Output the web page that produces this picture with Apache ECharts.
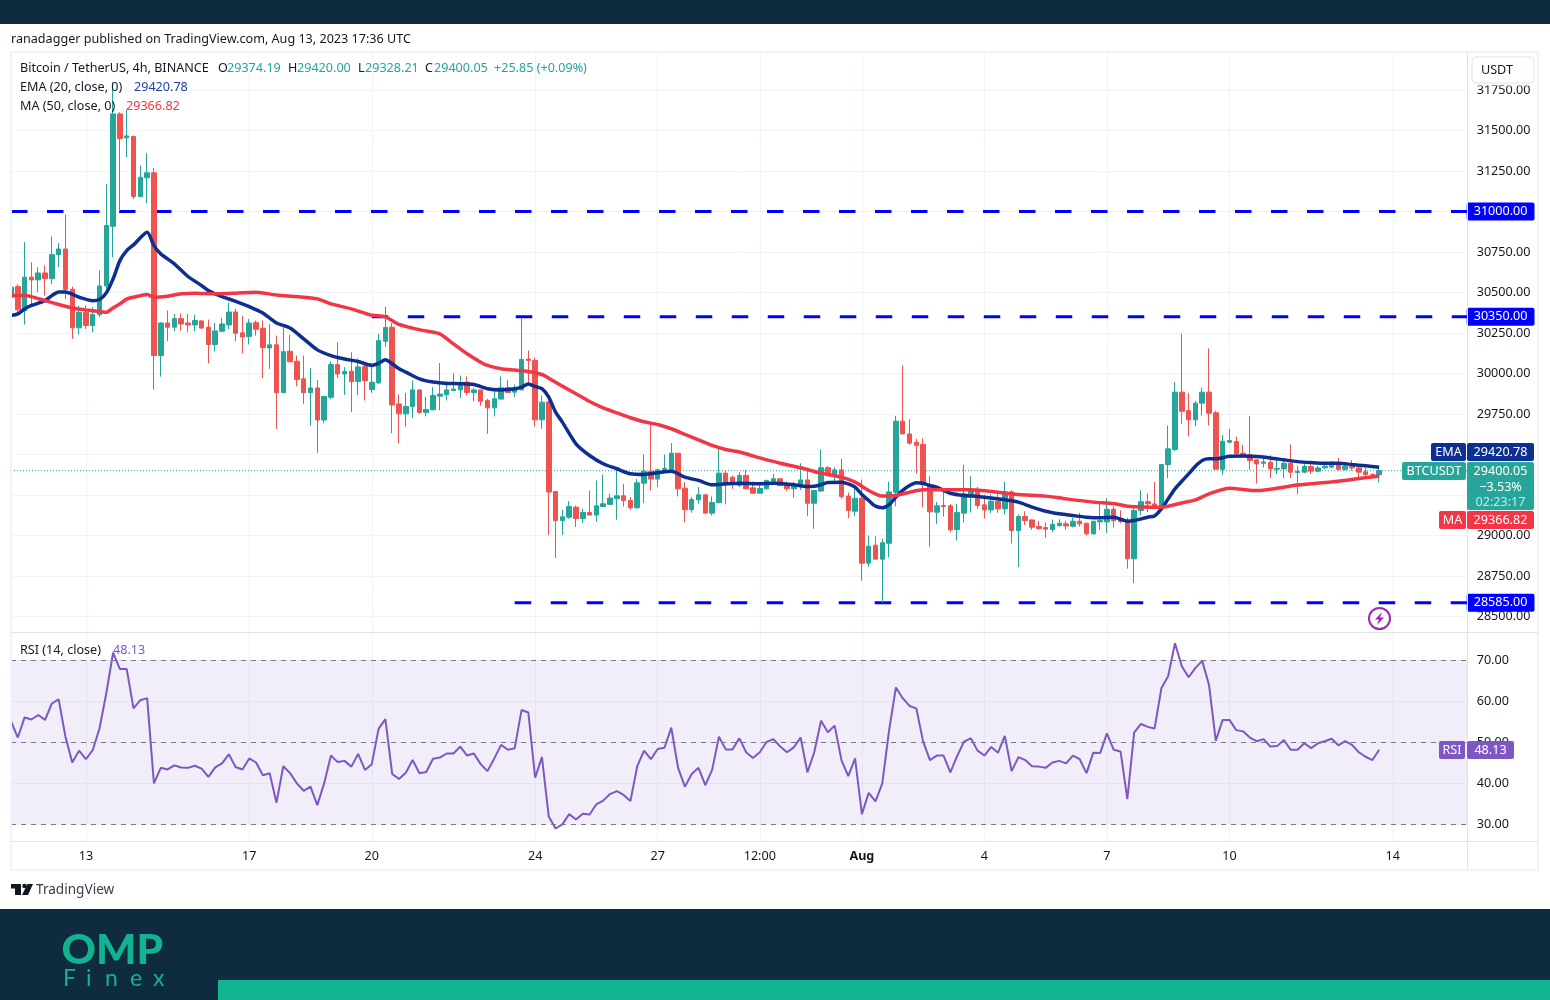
<!DOCTYPE html>
<html>
<head>
<meta charset="utf-8">
<title>BTCUSDT 4h</title>
<script src="https://cdn.jsdelivr.net/npm/echarts@6/dist/echarts.min.js"></script>
<style>
  html, body { margin: 0; padding: 0; background: #fff; overflow: hidden; }
  #chart { width: 1550px; height: 1000px; }
</style>
</head>
<body>
<div id="chart"></div>
<script>
// open, close, low, high for every 4h candle
const ohlc = [
  [30471,30533,30409,30656],[30537,30393,30378,30553],[30389,30595,30302,30811],[30595,30578,30409,30687],
  [30578,30621,30502,30656],[30621,30586,30481,30667],[30586,30734,30553,30846],[30734,30769,30656,30806],
  [30769,30520,30461,30981],[30520,30282,30214,30537],[30282,30378,30241,30420],[30378,30296,30275,30420],
  [30296,30364,30255,30409],[30364,30541,30348,30636],[30541,30914,30523,31171],[30909,31603,30718,31798],
  [31603,31451,31000,31613],[31455,31467,31335,31628],[31463,31093,31078,31470],[31093,31212,31088,31284],
  [31208,31239,31051,31360],[31239,30111,29901,31270],[30111,30312,29981,30316],[30312,30286,30199,30389],
  [30286,30339,30261,30368],[30339,30306,30265,30372],[30312,30300,30255,30368],[30300,30327,30261,30362],
  [30325,30281,30275,30331],[30286,30179,30063,30333],[30179,30263,30137,30312],[30261,30306,30255,30343],
  [30300,30380,30275,30438],[30380,30249,30199,30399],[30251,30226,30125,30358],[30228,30312,30179,30337],
  [30314,30273,30234,30327],[30279,30160,29971,30327],[30158,30177,30028,30306],[30177,29882,29658,30234],
  [29882,30135,29882,30286],[30137,30072,30072,30238],[30076,29963,29921,30111],[29967,29882,29812,30111],
  [29882,29911,29679,30034],[29911,29713,29510,29960],[29713,29858,29693,29864],[29853,30055,29843,30076],
  [30055,29997,29971,30193],[29997,30012,29868,30039],[30014,29950,29761,30131],[29950,30041,29868,30094],
  [30043,29956,29833,30063],[29901,29946,29880,30049],[29942,30203,29936,30244],[30199,30284,30166,30413],
  [30286,29806,29631,30312],[29812,29751,29569,29871],[29751,29797,29673,29880],[29797,29899,29727,29957],
  [29899,29760,29751,29899],[29760,29778,29735,29854],[29776,29864,29772,29916],[29860,29873,29772,30064],
  [29869,29899,29834,29953],[29895,29904,29895,30002],[29899,29941,29850,29988],[29947,29883,29866,29982],
  [29883,29899,29829,29912],[29899,29829,29801,29899],[29834,29788,29628,29844],[29788,29844,29735,29891],
  [29842,29912,29842,29982],[29912,29883,29883,29961],[29885,29901,29854,29932],[29899,30087,29895,30344],
  [30089,30081,29926,30142],[30081,29714,29673,30097],[29714,29823,29659,29864],[29825,29268,29004,29834],
  [29272,29093,28862,29272],[29093,29115,29004,29159],[29113,29179,29103,29212],[29175,29105,29052,29185],
  [29105,29142,29078,29165],[29142,29126,29126,29278],[29126,29183,29085,29340],[29179,29196,29179,29375],
  [29192,29231,29192,29257],[29227,29245,29097,29405],[29245,29216,29179,29319],[29216,29171,29159,29237],
  [29171,29325,29165,29350],[29323,29397,29200,29500],[29397,29348,29278,29690],[29348,29406,29299,29412],
  [29401,29414,29401,29500],[29406,29508,29406,29570],[29508,29288,29241,29508],[29292,29159,29082,29329],
  [29159,29222,29140,29237],[29220,29251,29196,29298],[29251,29138,29138,29257],[29138,29204,29124,29241],
  [29202,29385,29202,29541],[29385,29313,29192,29401],[29360,29320,29288,29370],[29309,29371,29299,29391],
  [29371,29288,29288,29406],[29294,29261,29261,29333],[29261,29290,29261,29327],[29288,29339,29285,29345],
  [29333,29350,29330,29380],[29350,29308,29305,29350],[29313,29288,29276,29333],[29288,29313,29233,29330],
  [29308,29343,29280,29446],[29343,29199,29119,29400],[29199,29278,29041,29280],[29274,29418,29270,29531],
  [29418,29370,29365,29430],[29366,29405,29337,29420],[29405,29241,29225,29475],[29243,29154,29107,29265],
  [29150,29230,29119,29290],[29230,28829,28720,29345],[28829,28934,28806,29000],[28940,28854,28854,28995],
  [28854,28955,28585,28980],[28952,29269,28865,29332],[29267,29706,29180,29739],[29706,29627,29627,30050],
  [29627,29570,29560,29718],[29576,29557,29381,29597],[29562,29313,29173,29600],[29315,29146,28931,29366],
  [29144,29183,29072,29208],[29185,29179,29117,29275],[29183,29035,29020,29194],[29037,29142,28969,29195],
  [29138,29257,29080,29436],[29253,29282,29142,29366],[29282,29185,29165,29300],[29189,29158,29105,29252],
  [29158,29212,29140,29255],[29212,29164,29140,29255],[29164,29269,29130,29333],[29269,29031,28950,29281],
  [29031,29117,28805,29130],[29117,29092,29065,29150],[29096,29051,29035,29100],[29055,29043,29035,29090],
  [29049,29039,28985,29080],[29037,29068,29020,29098],[29061,29076,29055,29100],[29072,29059,29035,29090],
  [29057,29088,29050,29110],[29088,29072,29055,29140],[29076,29010,29000,29076],[29010,29088,29005,29090],
  [29084,29092,29035,29205],[29084,29162,29016,29230],[29162,29092,29050,29180],[29098,29086,29075,29155],
  [29092,28856,28795,29110],[28856,29154,28707,29185],[29154,29209,29125,29280],[29209,29195,29145,29260],
  [29195,29179,29175,29330],[29179,29438,29170,29440],[29438,29535,29355,29678],[29531,29885,29521,29947],
  [29885,29767,29690,30245],[29771,29714,29612,29880],[29714,29817,29675,29830],[29817,29885,29740,29913],
  [29885,29755,29680,30155],[29757,29409,29409,29770],[29409,29582,29375,29620],[29576,29586,29570,29660],
  [29580,29504,29495,29610],[29508,29487,29480,29560],[29498,29463,29405,29738],[29467,29442,29320,29470],
  [29446,29454,29420,29478],[29452,29411,29355,29495],[29409,29415,29380,29485],[29411,29446,29355,29470],
  [29446,29391,29355,29562],[29389,29395,29255,29430],[29391,29426,29385,29440],[29426,29397,29380,29445],
  [29397,29417,29390,29430],[29418,29428,29410,29445],[29422,29442,29415,29460],[29438,29409,29400,29480],
  [29409,29428,29400,29440],[29428,29417,29400,29465],[29417,29391,29360,29435],[29393,29376,29370,29420],
  [29376,29374,29360,29385],[29374.19,29400.05,29328.21,29420]
];

// EMA 20 and MA 50, as [candle index, price] at the places where the curve was read
const emaPoints = [
  [0,30358],[1,30368],[2,30399],[3,30420],[5,30450],[6,30481],[7,30504],[8,30504],[9,30490],[10,30471],
  [12,30450],[13,30457],[14,30498],[15,30584],[16,30697],[17,30759],[18,30794],[20,30872],[21,30790],[22,30739],
  [24,30677],[26,30599],[28,30543],[29,30512],[31,30475],[33,30446],[35,30413],[37,30374],[39,30312],[41,30281],
  [43,30214],[45,30146],[47,30111],[49,30090],[51,30074],[53,30051],[54,30063],[55,30085],[56,30060],[57,30029],
  [58,30009],[60,29967],[62,29947],[64,29939],[66,29937],[68,29932],[70,29906],[72,29899],[74,29906],[75,29916],
  [76,29936],[77,29920],[78,29906],[79,29854],[80,29762],[81,29700],[83,29566],[85,29494],[87,29443],[89,29412],
  [91,29381],[93,29377],[95,29387],[97,29397],[99,29360],[101,29340],[103,29313],[105,29319],[107,29323],[110,29319],
  [112,29323],[115,29313],[117,29302],[118,29304],[119,29313],[120,29327],[122,29329],[123,29319],[124,29298],[125,29253],
  [126,29216],[127,29181],[128,29171],[129,29191],[130,29237],[131,29278],[132,29308],[133,29325],[134,29323],[135,29308],
  [136,29298],[138,29261],[140,29247],[142,29241],[144,29232],[146,29220],[148,29206],[150,29175],[152,29150],[154,29134],
  [156,29123],[158,29113],[160,29109],[162,29113],[164,29088],[165,29092],[167,29113],[168,29121],[169,29164],[170,29226],
  [171,29288],[172,29335],[173,29380],[174,29428],[175,29463],[176,29473],[177,29473],[179,29489],[181,29491],[183,29487],
  [185,29479],[187,29467],[189,29456],[191,29450],[193,29446],[195,29446],[197,29438],[199,29430],[201,29420.78]
];
const maPoints = [
  [0,30481],[2,30481],[3,30475],[5,30450],[7,30426],[9,30405],[11,30393],[13,30383],[14,30378],[15,30405],
  [16,30430],[17,30459],[18,30471],[20,30488],[21,30471],[23,30477],[25,30492],[27,30496],[30,30492],[33,30496],
  [36,30502],[39,30485],[42,30475],[45,30461],[47,30430],[50,30399],[53,30360],[55,30350],[57,30303],[59,30280],
  [61,30262],[63,30245],[65,30183],[67,30122],[69,30070],[70,30050],[72,30029],[74,30021],[76,30013],[78,29994],
  [79,29971],[81,29922],[83,29875],[85,29827],[87,29788],[89,29757],[91,29727],[93,29702],[95,29685],[97,29659],
  [99,29624],[101,29591],[103,29556],[105,29531],[107,29515],[110,29479],[113,29446],[116,29418],[119,29385],[122,29360],
  [124,29329],[126,29278],[128,29243],[130,29247],[132,29267],[134,29282],[137,29282],[141,29282],[145,29267],[148,29253],
  [152,29243],[155,29226],[159,29206],[162,29197],[164,29181],[169,29175],[172,29201],[174,29220],[176,29257],[179,29292],
  [183,29277],[189,29312],[195,29335],[201,29366.82]
];

// RSI 14, one value per candle
const rsiValues = [
  55.1,51.1,56.0,55.5,56.6,55.4,59.4,60.4,51.3,45.0,47.9,45.8,48.0,53.3,61.9,71.8,67.8,67.8,58.2,60.2,
  60.7,39.9,43.7,43.3,44.3,43.8,43.7,44.2,43.5,41.5,43.8,44.8,47.0,43.9,43.3,46.0,45.0,41.9,42.4,35.2,
  44.1,42.4,39.9,38.1,39.1,34.6,39.9,46.7,45.1,45.4,44.0,47.1,43.2,44.6,53.2,55.6,42.2,41.0,42.5,45.6,
  42.4,42.7,45.9,46.2,47.2,47.2,48.9,46.7,47.2,44.6,42.9,46.0,49.3,48.1,48.5,57.8,57.2,41.3,46.3,31.8,
  28.9,29.9,32.4,31.1,32.5,32.3,34.8,35.7,37.3,38.0,37.1,35.6,44.1,47.9,45.8,48.3,48.6,53.5,43.7,39.1,
  42.2,43.7,39.5,43.2,51.3,48.2,48.2,50.9,47.5,46.1,47.5,50.0,50.7,48.9,47.5,48.7,51.1,42.6,47.5,55.2,
  52.4,54.0,45.6,41.7,46.0,32.4,37.6,35.5,39.9,52.9,63.3,60.7,58.8,58.2,50.1,45.6,46.7,46.7,42.6,46.6,
  50.1,50.9,47.9,46.7,48.8,47.4,51.5,42.9,46.3,45.6,44.1,44.0,43.7,45.0,45.4,44.8,46.7,45.8,42.4,47.4,
  47.3,52.1,48.1,47.7,36.1,52.3,54.4,53.7,53.3,63.1,66.1,74.1,68.5,65.8,68.1,69.8,63.9,50.3,55.4,55.4,
  52.9,52.6,51.1,50.2,50.7,48.9,49.0,50.5,48.1,48.1,49.7,48.5,49.7,50.2,50.8,49.2,50.2,49.3,47.5,46.4,
  45.6,48.13
];

// horizontal levels: price and the candle index where the line starts
const levelPrices = [31000, 30350, 28585];
const levelStarts = [0, 53, 74];

const lastPrice = 29400.05;
const emaLast = 29420.78;
const maLast = 29366.82;
const rsiLast = 48.13;

// axis labels
const priceTicks = [28500,28750,29000,29250,29500,29750,30000,30250,30500,30750,31000,31250,31500,31750];
const rsiTicks = [30,40,50,60,70];
const rsiBands = [30,50,70];
const tickIndex = [11,35,53,77,95,110,125,143,161,179,203];
const tickLabels = ['13','17','20','24','27','12:00','Aug','4','7','10','14'];

// 202 candles and some empty room on the right
const START = Date.UTC(2023, 6, 11, 4);
const categories = Array.from({ length: 215 }, (_, i) => new Date(START + i * 4 * 3600 * 1000).toISOString().slice(5, 16));
const lastIndex = categories.length - 1;
const labelByCategory = {};
tickIndex.forEach((idx, k) => { labelByCategory[categories[idx]] = tickLabels[k]; });

const FONT = '"Noto Sans", sans-serif';
const SIZE = 12.6;
const UP = '#26a69a';
const DOWN = '#ef5350';
const GRID_LINE = '#f0f3fa';
const FRAME = '#e0e3eb';
const TEXT = '#131722';
const EMA_COLOR = '#0d2f8f';
const MA_COLOR = '#f23645';
const RSI_COLOR = '#7e57c2';
const LOGO = '#12b391';
const LEFT = 11;
const AXIS_X = 1467;

function rect(x, y, width, height, fill, z, r) {
    return { type: 'rect', silent: true, z: z, shape: { x, y, width, height, r: r || 0 }, style: { fill } };
}

function text(x, y, str, size, fill, opts) {
    opts = opts || {};
    return {
        type: 'text', silent: true, z: opts.z || 60,
        style: {
            x, y: y + 1, text: str, fill, fontSize: size, fontFamily: opts.family || FONT,
            fontWeight: opts.weight || 'normal', align: opts.align || 'left', verticalAlign: 'middle'
        }
    };
}

// a price tag box with its text in the middle
function tag(x, y, width, height, fill, str) {
    return [
        rect(x, y, width, height, fill, 50, 2),
        text(x + width / 2, y + height / 2 - 0.5, str, SIZE, '#fff', { align: 'center', z: 51 })
    ];
}

const decorations = [
    // page bands
    rect(0, 0, 1550, 24, '#0e2b40', 0),
    rect(0, 909, 1550, 91, '#0e2b40', 0),
    rect(218, 980, 1332, 20, '#10b48f', 1),

    // keeps the half candle at the left edge inside the frame
    rect(0, 52, LEFT, 790, '#fff', 39),

    // chart frame
    { type: 'rect', silent: true, z: 40, shape: { x: LEFT, y: 52, width: 1527, height: 818 }, style: { fill: 'none', stroke: GRID_LINE, lineWidth: 2 } },
    rect(LEFT, 632, 1527, 1, FRAME, 41),
    rect(LEFT, 841, 1527, 1, FRAME, 41),
    rect(AXIS_X, 52, 1, 818, FRAME, 41),

    // header and legend
    text(11, 38, 'ranadagger published on TradingView.com, Aug 13, 2023 17:36 UTC', SIZE, TEXT),
    text(20, 67.5, 'Bitcoin / TetherUS, 4h, BINANCE', SIZE, TEXT),
    text(218, 67.5, 'O', SIZE, TEXT), text(227, 67.5, '29374.19', SIZE, UP),
    text(288, 67.5, 'H', SIZE, TEXT), text(297, 67.5, '29420.00', SIZE, UP),
    text(358, 67.5, 'L', SIZE, TEXT), text(365, 67.5, '29328.21', SIZE, UP),
    text(425, 67.5, 'C', SIZE, TEXT), text(434, 67.5, lastPrice.toFixed(2), SIZE, UP),
    text(494, 67.5, '+25.85 (+0.09%)', SIZE, UP),
    text(20, 86.5, 'EMA (20, close, 0)', SIZE, TEXT), text(134, 86.5, emaLast.toFixed(2), SIZE, '#1f3fa8'),
    text(20, 105, 'MA (50, close, 0)', SIZE, TEXT), text(126, 105, maLast.toFixed(2), SIZE, MA_COLOR),
    text(20, 649, 'RSI (14, close)', SIZE, TEXT), text(113, 649, rsiLast.toFixed(2), SIZE, RSI_COLOR),

    // currency button, it cuts the top of the highest price label
    rect(1468, 83, 66, 2.5, '#fff', 44),
    { type: 'rect', silent: true, z: 45, shape: { x: 1472, y: 57, width: 62, height: 26, r: 4 }, style: { fill: '#fff', stroke: FRAME, lineWidth: 1 } },
    text(1481, 69.5, 'USDT', SIZE, TEXT, { z: 46 }),

    // right side tags that sit off their exact price
    ...tag(1431, 443, 35, 18, EMA_COLOR, 'EMA'),
    ...tag(1467, 443, 67, 18, EMA_COLOR, emaLast.toFixed(2)),
    ...tag(1402, 462, 64, 18, UP, 'BTCUSDT'),
    rect(1467, 462, 67, 48, UP, 50, 2),
    text(1500.5, 470.5, lastPrice.toFixed(2), SIZE, '#fff', { align: 'center', z: 51 }),
    text(1500.5, 486, '\u22123.53%', SIZE, '#fff', { align: 'center', z: 51 }),
    text(1500.5, 501.5, '02:23:17', SIZE, '#c4e8e4', { align: 'center', z: 51 }),
    ...tag(1439, 511, 27, 18, MA_COLOR, 'MA'),
    ...tag(1467, 511, 67, 18, MA_COLOR, maLast.toFixed(2)),
    ...tag(1439, 741, 26, 18, RSI_COLOR, 'RSI'),
    ...tag(1467, 741, 47, 18, RSI_COLOR, rsiLast.toFixed(2)),

    // lightning badge
    { type: 'circle', silent: true, z: 45, shape: { cx: 1379.5, cy: 618.5, r: 10.5 }, style: { fill: '#fff', stroke: '#9c27b0', lineWidth: 2 } },
    { type: 'polygon', silent: true, z: 46, shape: { points: [[1382, 612], [1375, 619.5], [1379, 619.5], [1377, 625], [1384, 617.5], [1380, 617.5]] }, style: { fill: '#9c27b0' } },

    // TradingView mark
    { type: 'polygon', silent: true, z: 5, shape: { points: [[11, 884], [21, 884], [21, 895], [15, 895], [15, 888.5], [11, 888.5]] }, style: { fill: TEXT } },
    { type: 'circle', silent: true, z: 5, shape: { cx: 24.5, cy: 886, r: 2.3 }, style: { fill: TEXT } },
    { type: 'polygon', silent: true, z: 5, shape: { points: [[27.5, 884], [33, 884], [28, 895], [22, 895]] }, style: { fill: TEXT } },
    text(36, 889, 'TradingView', 13.6, '#3a3e4a'),

    // OMP Finex logo
    text(61.5, 949, 'OMP', 42.5, LOGO, { family: 'Lato, sans-serif', weight: 900, z: 5 }),
    text(63, 978, 'F', 23, LOGO, { family: 'Lato, sans-serif', z: 5 }),
    text(86, 978, 'i', 23, LOGO, { family: 'Lato, sans-serif', z: 5 }),
    text(105, 978, 'n', 23, LOGO, { family: 'Lato, sans-serif', z: 5 }),
    text(130, 978, 'e', 23, LOGO, { family: 'Lato, sans-serif', z: 5 }),
    text(153, 978, 'x', 23, LOGO, { family: 'Lato, sans-serif', z: 5 })
];

function init() {
    const chart = echarts.init(document.getElementById('chart'));

    const levelSeries = levelPrices.map((price, k) => ({
        type: 'line',
        name: 'level' + price,
        xAxisIndex: 0,
        yAxisIndex: 0,
        z: 1,
        symbol: 'none',
        silent: true,
        data: [[levelStarts[k], price], [lastIndex, price]],
        lineStyle: { color: '#0000ff', width: 3, type: [16.5, 19.5] },
        endLabel: {
            show: true,
            distance: 0,
            offset: [-1, 0],
            formatter: () => price.toFixed(2),
            color: '#fff',
            fontFamily: FONT,
            fontSize: SIZE,
            backgroundColor: '#0000ff',
            borderRadius: 2,
            padding: [3, 7, 2, 7]
        }
    }));

    const priceLabel = {
        margin: 9,
        color: TEXT,
        fontSize: SIZE,
        padding: [3, 0, 0, 0],
        formatter: v => v.toFixed(2)
    };

    chart.setOption({
        animation: false,
        backgroundColor: '#fff',
        textStyle: { fontFamily: FONT },
        graphic: { elements: decorations },
        axisPointer: { show: false },
        grid: [
            { left: LEFT, top: 52.5, width: 1456.7, height: 580 },
            { left: LEFT, top: 633, width: 1456.7, height: 208 }
        ],
        xAxis: [0, 1].map(g => ({
            type: 'category',
            gridIndex: g,
            data: categories,
            boundaryGap: false,
            axisLine: { show: false },
            axisTick: { show: false },
            splitLine: {
                show: true,
                interval: i => tickIndex.includes(i),
                lineStyle: { color: GRID_LINE, width: 1 }
            },
            axisLabel: {
                show: g === 1,
                interval: i => tickIndex.includes(i),
                margin: 9,
                color: TEXT,
                fontSize: SIZE,
                formatter: v => {
                    const s = labelByCategory[v] || '';
                    return s === 'Aug' ? '{b|Aug}' : s;
                },
                rich: { b: { fontWeight: 'bold', fontSize: SIZE, color: TEXT } }
            }
        })),
        yAxis: [
            {
                type: 'value',
                gridIndex: 0,
                position: 'right',
                min: 28401,
                max: 31982,
                axisLine: { show: false },
                axisTick: { show: false, customValues: priceTicks },
                splitLine: { show: true, lineStyle: { color: GRID_LINE, width: 1 } },
                axisLabel: Object.assign({ customValues: priceTicks }, priceLabel)
            },
            {
                type: 'value',
                gridIndex: 1,
                position: 'right',
                min: 25.85,
                max: 76.6,
                axisLine: { show: false },
                axisTick: { show: false, customValues: rsiTicks },
                splitLine: { show: true, lineStyle: { color: GRID_LINE, width: 1 } },
                axisLabel: Object.assign({ customValues: rsiTicks }, priceLabel)
            }
        ],
        series: [
            ...levelSeries,
            {
                type: 'line',
                name: 'last',
                z: 1,
                symbol: 'none',
                silent: true,
                data: [[0, lastPrice], [lastIndex, lastPrice]],
                lineStyle: { color: UP, width: 1, type: [1, 2] }
            },
            {
                type: 'candlestick',
                name: 'BTCUSDT',
                xAxisIndex: 0,
                yAxisIndex: 0,
                z: 2,
                barWidth: 5,
                clip: true,
                data: ohlc,
                itemStyle: {
                    color: UP,
                    color0: DOWN,
                    borderColor: UP,
                    borderColor0: DOWN,
                    borderWidth: 1
                }
            },
            {
                type: 'line',
                name: 'EMA',
                z: 3,
                symbol: 'none',
                smooth: 0.25,
                data: emaPoints,
                lineStyle: { color: EMA_COLOR, width: 3.5 }
            },
            {
                type: 'line',
                name: 'MA',
                z: 3,
                symbol: 'none',
                smooth: 0.25,
                data: maPoints,
                lineStyle: { color: MA_COLOR, width: 3.5 }
            },
            {
                type: 'line',
                name: 'RSI',
                xAxisIndex: 1,
                yAxisIndex: 1,
                symbol: 'none',
                z: 3,
                data: rsiValues,
                lineStyle: { color: RSI_COLOR, width: 2 },
                markArea: {
                    silent: true,
                    itemStyle: { color: 'rgba(126,87,194,0.1)' },
                    data: [[{ yAxis: rsiBands[0] }, { yAxis: rsiBands[2] }]]
                },
                markLine: {
                    silent: true,
                    symbol: 'none',
                    label: { show: false },
                    lineStyle: { color: '#787b86', width: 1, type: [5, 5] },
                    data: rsiBands.map(v => ({ yAxis: v }))
                }
            }
        ]
    });

    window.addEventListener('resize', () => chart.resize());
}

document.addEventListener('DOMContentLoaded', init);
</script>
</body>
</html>
